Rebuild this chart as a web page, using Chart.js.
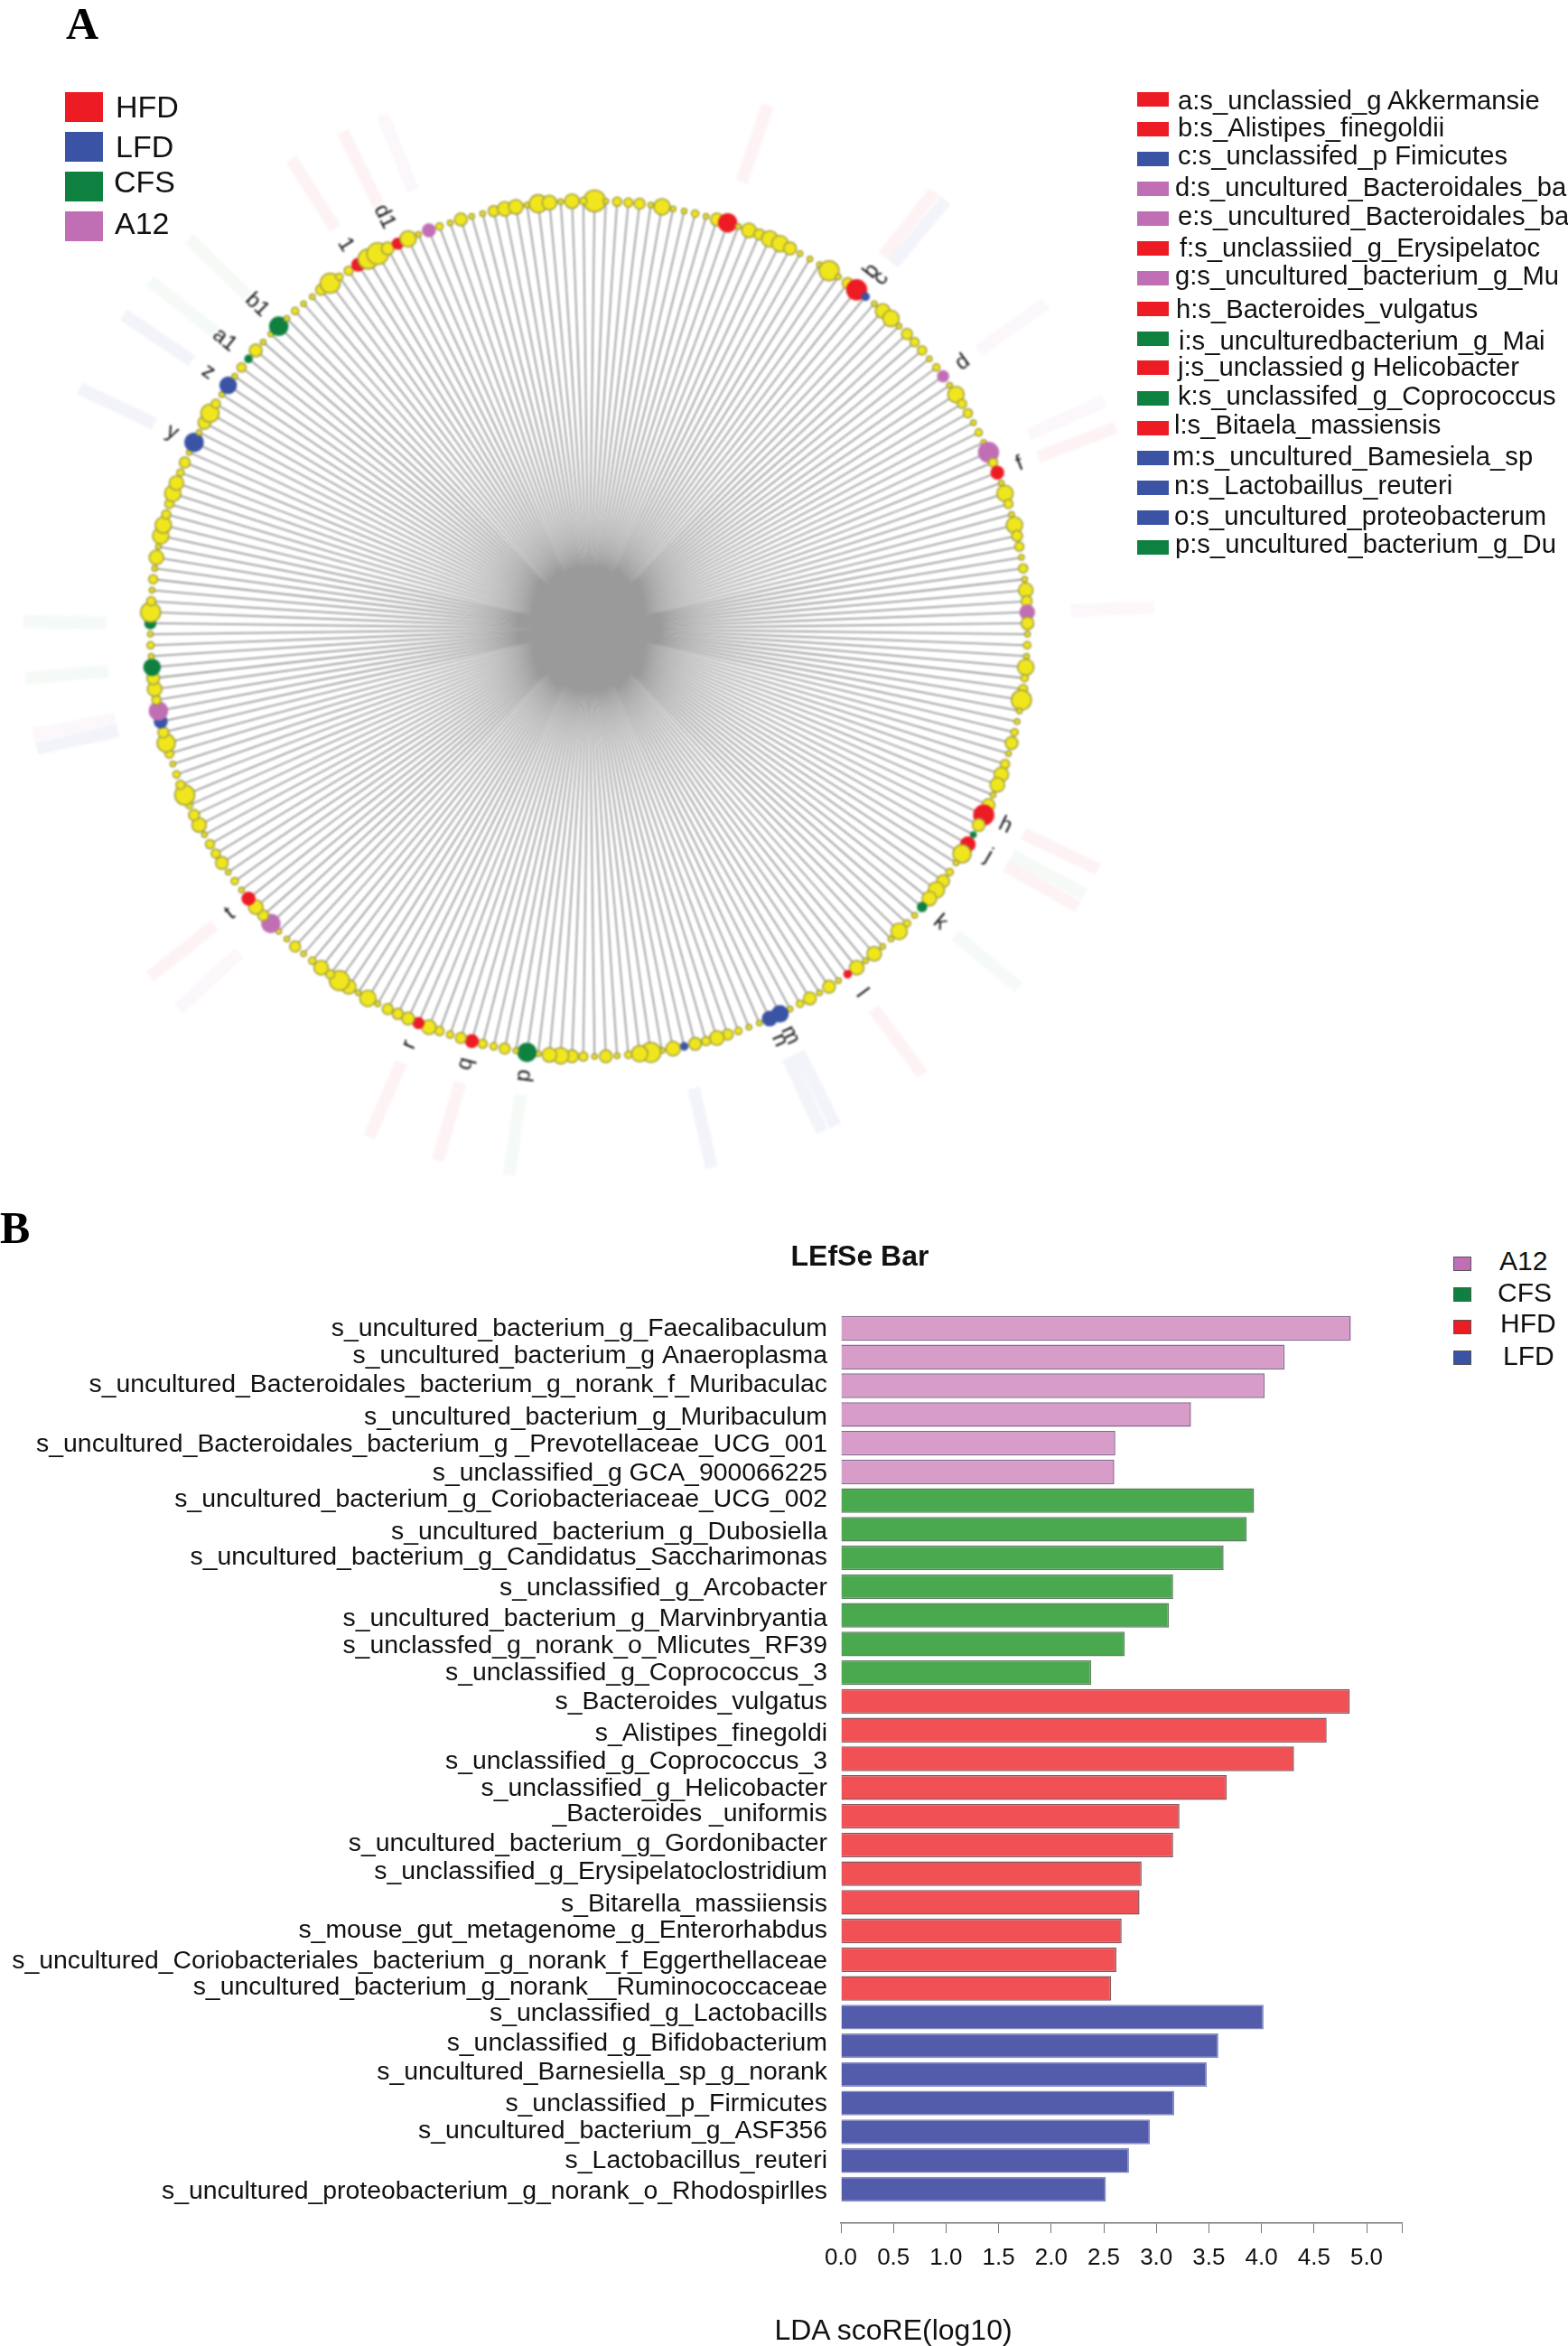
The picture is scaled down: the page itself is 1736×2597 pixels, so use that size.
<!DOCTYPE html>
<html lang="en">
<head>
<meta charset="UTF-8" />
<title>LEfSe cladogram and bar</title>
<script src="https://cdn.jsdelivr.net/npm/chart.js"></script>
<style>
  html, body { margin: 0; padding: 0; background: #fff; }
  body { position: relative; width: 1736px; height: 2597px; overflow: hidden; font-family: "Liberation Sans", Arial, sans-serif; color: #111; }
  canvas { position: absolute; }
  #clado { filter: blur(0.8px); }
  .t { position: absolute; white-space: nowrap; line-height: 1; transform: translateY(-50%); }
  .s { position: absolute; box-sizing: border-box; }
  .panel { font-family: "Liberation Serif", serif; font-weight: bold; font-size: 50px; color: #000; }
</style>
</head>
<body>
<canvas id="clado" width="1304" height="1392" style="left:0;top:0"></canvas>
<canvas id="bars" width="1736" height="1177" style="left:0;top:1420px"></canvas>
<div id="overlay"></div>

<script>
  // cladogram: one value per spoke, clockwise from the top
  const nodeAbundance = [
    12,3,5,5,6,3,9,3,3,4,3,7,10,3,8,6,9,9,7,3,
    3,3,11,3,6,11,4,3,8,9,3,6,5,5,3,4,6,3,9,5,
    5,3,4,3,11,5,7,3,9,5,3,9,6,5,3,5,3,8,6,8,
    7,3,4,3,9,4,5,11,3,3,4,7,3,5,8,8,3,7,11,7,
    3,8,10,3,4,7,9,8,5,3,4,9,3,3,8,3,8,4,3,7,
    3,7,4,3,9,8,3,3,4,6,8,5,7,4,8,3,11,9,4,3,
    7,3,5,7,9,8,3,10,3,6,4,5,7,6,4,5,8,6,7,6,
    6,3,9,3,8,11,5,8,4,3,6,3,3,10,6,8,7,3,4,3,
    7,5,5,3,8,6,4,11,5,4,3,5,10,6,7,10,5,8,7,9,
    3,4,3,6,11,5,3,5,3,8,3,9,9,5,5,9,8,4,6,3,
    10,3,7,10,5,3,9,3,5,4,7,3,3,10,3,4,3,3,6,11,
    4,5,7,11,12,7,6,9,3,7,4,3,7,3,3,6,8,8,3,10,
    8,3,8,4
  ];
  // spokes whose node is coloured by group
  const hfdSpokes = [222, 226, 12, 25, 46, 78, 81, 97, 132, 137, 156];
  const lfdSpokes = [26, 104, 105, 113, 174, 200, 206];
  const cfsSpokes = [80, 88, 127, 179, 183, 209, 213];
  const a12Spokes = [229, 36, 44, 59, 153, 175];
  const letterSpokes = [25, 26, 36, 46, 78, 81, 88, 97, 104, 105, 127, 132, 137, 156, 200, 206, 209, 213, 222, 226];
  const letterTexts = ['b', 'c', 'd', 'f', 'h', 'j', 'k', 'l', 'm', 'n', 'p', 'q', 'r', 't', 'y', 'z', 'a1', 'b1', '1', 'd1'];

  const keyLabels = [
    'a:s_unclassied_g Akkermansie', 'b:s_Alistipes_finegoldii', 'c:s_unclassifed_p Fimicutes',
    'd:s_uncultured_Bacteroidales_ba', 'e:s_uncultured_Bacteroidales_ba', 'f:s_unclassiied_g_Erysipelatoc',
    'g:s_uncultured_bacterium_g_Mu', 'h:s_Bacteroides_vulgatus', 'i:s_unculturedbacterium_g_Mai',
    'j:s_unclassied g Helicobacter', 'k:s_unclassifed_g_Coprococcus', 'l:s_Bitaela_massiensis',
    'm:s_uncultured_Bamesiela_sp', 'n:s_Lactobaillus_reuteri', 'o:s_uncultured_proteobacterum', 'p:s_uncultured_bacterium_g_Du'
  ];
  const keyGroups = ['HFD','HFD','LFD','A12','A12','HFD','A12','HFD','CFS','HFD','CFS','HFD','LFD','LFD','LFD','CFS'];

  // LDA bars
  const a12Names = ['s_uncultured_bacterium_g_Faecalibaculum', 's_uncultured_bacterium_g Anaeroplasma', 's_uncultured_Bacteroidales_bacterium_g_norank_f_Muribaculac', 's_uncultured_bacterium_g_Muribaculum', 's_uncultured_Bacteroidales_bacterium_g _Prevotellaceae_UCG_001', 's_unclassified_g GCA_900066225'];
  const a12Scores = [4.85, 4.22, 4.03, 3.33, 2.61, 2.60];
  const cfsNames = ['s_uncultured_bacterium_g_Coriobacteriaceae_UCG_002', 's_uncultured_bacterium_g_Dubosiella', 's_uncultured_bacterium_g_Candidatus_Saccharimonas', 's_unclassified_g_Arcobacter', 's_uncultured_bacterium_g_Marvinbryantia', 's_unclassfed_g_norank_o_Mlicutes_RF39', 's_unclassified_g_Coprococcus_3'];
  const cfsScores = [3.93, 3.86, 3.64, 3.16, 3.12, 2.70, 2.38];
  const hfdNames = ['s_Bacteroides_vulgatus', 's_Alistipes_finegoldi', 's_unclassified_g_Coprococcus_3', 's_unclassified_g_Helicobacter', '_Bacteroides _uniformis', 's_uncultured_bacterium_g_Gordonibacter', 's_unclassified_g_Erysipelatoclostridium', 's_Bitarella_massiiensis', 's_mouse_gut_metagenome_g_Enterorhabdus', 's_uncultured_Coriobacteriales_bacterium_g_norank_f_Eggerthellaceae', 's_uncultured_bacterium_g_norank__Ruminococcaceae'];
  const hfdScores = [4.84, 4.62, 4.31, 3.67, 3.22, 3.16, 2.86, 2.84, 2.67, 2.62, 2.57];
  const lfdNames = ['s_unclassified_g_Lactobacills', 's_unclassified_g_Bifidobacterium', 's_uncultured_Barnesiella_sp_g_norank', 's_unclassified_p_Firmicutes', 's_uncultured_bacterium_g_ASF356', 's_Lactobacillus_reuteri', 's_uncultured_proteobacterium_g_norank_o_Rhodospirlles'];
  const lfdScores = [4.02, 3.59, 3.48, 3.17, 2.94, 2.74, 2.52];
  const xTicks = [0, 0.5, 1, 1.5, 2, 2.5, 3, 3.5, 4, 4.5, 5, 5.335];
  // the source labels sit a little off their bars (fraction of a row)
  const labelShift = [.03,-.03,-.03,.12,.06,.06,-.03,.09,0,.06,.12,.06,.03,.03,.12,.09,.03,-.06,-.03,-.06,.06,0,.06,-.03,-.12,-.09,-.06,.03,-.03,0,.09];

  const solid = { HFD: '#ed1c24', LFD: '#3a53a4', CFS: '#0e8040', A12: '#c06fb5' };
  const pale = { HFD: 'rgba(237,28,36,.05)', LFD: 'rgba(58,60,164,.06)', CFS: 'rgba(14,128,64,.045)', A12: 'rgba(192,111,181,.06)' };

  const groupOf = {};
  hfdSpokes.forEach(i => groupOf[i] = 'HFD');
  lfdSpokes.forEach(i => groupOf[i] = 'LFD');
  cfsSpokes.forEach(i => groupOf[i] = 'CFS');
  a12Spokes.forEach(i => groupOf[i] = 'A12');

  const spokeDeg = i => (i + 0.5) * 360 / nodeAbundance.length;
  const polar = (i, r) => {
    const a = spokeDeg(i) * Math.PI / 180;
    return { x: r * Math.sin(a), y: r * Math.cos(a) };
  };

  const rim = nodeAbundance.map((_, i) => polar(i, 1));
  const spokePath = [];
  rim.forEach(p => { spokePath.push({ x: 0, y: 0 }, p); });

  function haloSet(name, spokes) {
    const pts = [];
    spokes.forEach(i => pts.push(polar(i, 1.10), polar(i, 1.29), { x: NaN, y: NaN }));
    return { data: pts, showLine: true, pointRadius: 0, borderColor: pale[name], borderWidth: 14, borderCapStyle: 'butt', spanGaps: false, order: 3 };
  }

  // tick labels would otherwise push the plot area in
  const noPad = s => { s.paddingLeft = s.paddingRight = s.paddingTop = s.paddingBottom = 0; };

  const letterPlugin = {
    id: 'letters',
    afterDatasetsDraw(chart) {
      const { ctx, scales } = chart;
      ctx.save();
      ctx.font = '24px "Liberation Sans"';
      ctx.fillStyle = '#111';
      ctx.textAlign = 'center';
      ctx.textBaseline = 'middle';
      letterSpokes.forEach((s, k) => {
        const p = polar(s, letterTexts[k].length > 1 ? 1.07 : 1.055);
        const deg = spokeDeg(s);
        const rot = deg <= 180 ? deg - 90 : deg - 270;
        ctx.save();
        ctx.translate(scales.x.getPixelForValue(p.x), scales.y.getPixelForValue(p.y));
        ctx.rotate(rot * Math.PI / 180);
        ctx.fillText(letterTexts[k], 0, 0);
        ctx.restore();
      });
      ctx.restore();
    }
  };

  // chart.js keeps 13px round the plot for the first point's radius
  const rangeX = (652 - 13) / 486;
  const rangeY = (696 - 13) / 474;

  new Chart(document.getElementById('clado'), {
    type: 'scatter',
    data: {
      datasets: [
        {
          data: rim,
          pointRadius: nodeAbundance,
          pointHoverRadius: nodeAbundance,
          pointBackgroundColor: nodeAbundance.map((_, i) => groupOf[i] ? solid[groupOf[i]] : '#f0e61e'),
          pointBorderColor: nodeAbundance.map((_, i) => groupOf[i] ? solid[groupOf[i]] : '#a09c3e'),
          pointBorderWidth: 1.5,
          showLine: false,
          clip: false,
          order: 1
        },
        { data: spokePath, showLine: true, pointRadius: 0, borderColor: '#9a9a9a', borderWidth: 1.8, order: 2 },
        haloSet('HFD', hfdSpokes),
        haloSet('LFD', lfdSpokes),
        haloSet('CFS', cfsSpokes),
        haloSet('A12', a12Spokes)
      ]
    },
    options: {
      responsive: false,
      animation: false,
      layout: { padding: 0 },
      plugins: { legend: { display: false }, tooltip: { enabled: false } },
      scales: {
        x: { display: false, min: -rangeX, max: rangeX, afterFit: noPad },
        y: { display: false, min: -rangeY, max: rangeY, afterFit: noPad }
      }
    },
    plugins: [letterPlugin]
  });

  const barNames = [...a12Names, ...cfsNames, ...hfdNames, ...lfdNames];
  const barScores = [...a12Scores, ...cfsScores, ...hfdScores, ...lfdScores];
  const barGroups = [
    ...a12Names.map(() => 'A12'), ...cfsNames.map(() => 'CFS'),
    ...hfdNames.map(() => 'HFD'), ...lfdNames.map(() => 'LFD')
  ];
  const barFill = { A12: '#d79cc8', CFS: '#4aa84f', HFD: '#f15054', LFD: '#535cab' };
  const barEdge = { A12: '#85688f', CFS: '#5f7f63', HFD: '#85585e', LFD: '#8488bd' };

  new Chart(document.getElementById('bars'), {
    type: 'bar',
    data: {
      datasets: [{
        data: barScores.map((v, i) => ({ x: v, y: i })),
        backgroundColor: barGroups.map(g => barFill[g]),
        borderColor: barGroups.map(g => barEdge[g]),
        borderWidth: 1.5,
        categoryPercentage: 1,
        barPercentage: 0.945
      }]
    },
    options: {
      indexAxis: 'y',
      responsive: false,
      animation: false,
      layout: { padding: { top: 34.6, right: 184 } },
      plugins: { legend: { display: false }, tooltip: { enabled: false } },
      scales: {
        y: {
          type: 'linear',
          reverse: true,
          offset: false,
          min: -0.5,
          max: 31.18,
          grid: { display: false },
          border: { display: false },
          afterFit: s => { s.width = 931; noPad(s); },
          afterBuildTicks: s => { s.ticks = barNames.map((_, i) => ({ value: i + labelShift[i] })); },
          ticks: {
            autoSkip: false,
            padding: 7,
            color: '#111',
            font: { family: '"Liberation Sans"', size: 28.4 },
            callback: (v, i) => barNames[i]
          }
        },
        x: {
          type: 'linear',
          min: 0,
          max: 5.335,
          border: { color: '#777', width: 1.5 },
          grid: { drawOnChartArea: false, color: '#777', tickColor: '#777', tickLength: 11 },
          afterFit: s => { s.height = 136; noPad(s); },
          afterBuildTicks: s => { s.ticks = xTicks.map(v => ({ value: v })); },
          ticks: {
            autoSkip: false,
            maxRotation: 0,
            padding: 12,
            color: '#111',
            font: { family: '"Liberation Sans"', size: 26 },
            callback: v => (v * 2) % 1 === 0 ? v.toFixed(1) : ''
          }
        }
      }
    }
  });

  // text and legends round the charts
  const overlay = document.getElementById('overlay');
  function text(x, y, str, size, extra) {
    const d = document.createElement('div');
    d.className = 't';
    d.textContent = str;
    d.style.cssText = `left:${x}px;top:${y}px;font-size:${size}px;${extra || ''}`;
    overlay.appendChild(d);
    return d;
  }
  function box(x, y, w, h, fill, extra) {
    const d = document.createElement('div');
    d.className = 's';
    d.style.cssText = `left:${x}px;top:${y}px;width:${w}px;height:${h}px;background:${fill};${extra || ''}`;
    overlay.appendChild(d);
  }

  text(73, 26, 'A', 50).classList.add('panel');
  text(0, 1359, 'B', 50).classList.add('panel');

  [['HFD', 102, 128, 118], ['LFD', 146, 128, 162], ['CFS', 190, 126, 201], ['A12', 234, 127, 247]].forEach(r => {
    box(72, r[1], 42, 33, solid[r[0]]);
    text(r[2], r[3], r[0], 34);
  });

  const keyBoxY = [110, 143, 175.5, 209, 242, 275, 308, 342, 375, 407, 441, 473.5, 507, 540, 573, 606];
  const keyTextY = [111.5, 142, 173, 208, 240, 275, 306, 343, 378, 407, 439, 471, 506, 538, 571.5, 603];
  const keyTextX = [1304, 1304, 1304, 1301, 1304, 1306, 1301, 1302, 1305, 1304, 1304, 1300, 1298, 1300, 1300, 1301];
  keyLabels.forEach((lab, i) => {
    box(1259, keyBoxY[i] - 8, 35, 16, solid[keyGroups[i]]);
    text(keyTextX[i], keyTextY[i], lab, 29.2);
  });

  text(952, 1390, 'LEfSe Bar', 32, 'font-weight:bold;transform:translate(-50%,-50%)');
  text(989, 2579, 'LDA scoRE(log10)', 32, 'transform:translate(-50%,-50%)');

  [['A12', 1399, 1660, 1396], ['CFS', 1433, 1658, 1431], ['HFD', 1468.5, 1661, 1465], ['LFD', 1503, 1664, 1501]].forEach(r => {
    box(1609, r[1] - 8, 20, 16, solid[r[0]], 'border:1.5px solid #555');
    text(r[2], r[3], r[0], 30);
  });
</script>
</body>
</html>
